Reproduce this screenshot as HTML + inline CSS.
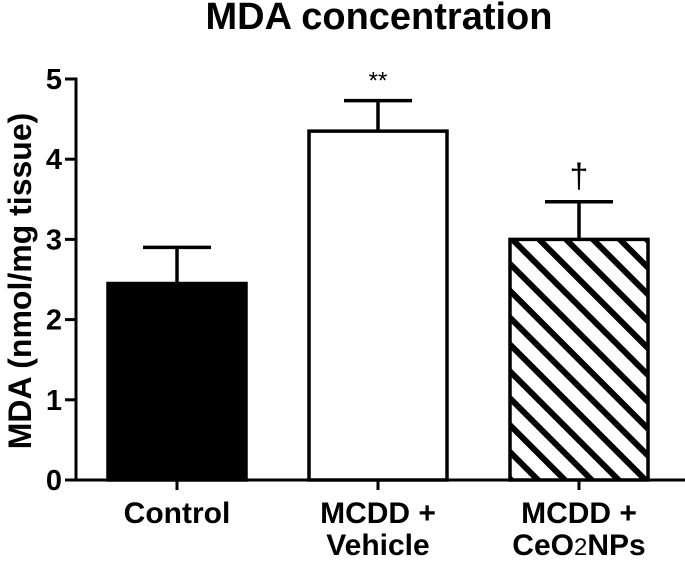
<!DOCTYPE html>
<html><head><meta charset="utf-8"><style>
html,body{margin:0;padding:0;background:#fff;}
svg text{font-family:"Liberation Sans",Arial,sans-serif;font-weight:bold;fill:#000;}
</style></head><body>
<svg id="chart" width="685" height="560" viewBox="0 0 685 560" xmlns="http://www.w3.org/2000/svg">
<defs>
<pattern id="hatch" patternUnits="userSpaceOnUse" width="19" height="19" patternTransform="rotate(-45)">
<rect width="19" height="19" fill="#fff"/><rect x="0" y="0" width="6" height="19" fill="#000"/>
</pattern>
</defs>
<text x="379" y="29" font-size="38" text-anchor="middle">MDA concentration</text>
<text transform="translate(31,281) rotate(-90)" font-size="32" text-anchor="middle">MDA (nmol/mg tissue)</text>
<g id="plot"></g>
</svg>
<script>
const categories = ["Control", "MCDD + Vehicle", "MCDD + CeO2NPs"];
const values = [2.45, 4.35, 3.0];
const errors = [0.45, 0.38, 0.47];
const yTicks = [0, 1, 2, 3, 4, 5];
const marks = ["", "**", "†"];

const NS = "http://www.w3.org/2000/svg";
const g = document.getElementById("plot");
const y0 = 480, yUnit = 80.2, axisX = 76;
const xc = i => 177 + i * 201;
const yS = v => y0 - v * yUnit;
function mk(tag, attrs, parent) {
  const e = document.createElementNS(NS, tag);
  for (const k in attrs) e.setAttribute(k, attrs[k]);
  (parent || g).appendChild(e);
  return e;
}
const fills = ["#000", "#fff", "url(#hatch)"];
values.forEach((v, i) => {
  const bw = 138, x = xc(i) - bw / 2;
  const eb = mk("line", {x1: xc(i), x2: xc(i), y1: yS(v), y2: yS(v + errors[i]), stroke: "#000", "stroke-width": 3.5});
  
  
  const cap = mk("line", {x1: xc(i) - 34, x2: xc(i) + 34, y1: yS(v + errors[i]), y2: yS(v + errors[i]), stroke: "#000", "stroke-width": 3.5});
  
  
  const r = mk("rect", {x: x, y: yS(v), width: bw, height: y0 - yS(v), fill: fills[i], stroke: "#000", "stroke-width": 3.5});
  
  
  if (marks[i]) {
    const t = mk("text", {x: xc(i), y: yS(v + errors[i]) - (i === 2 ? 14 : 12), "font-size": i === 2 ? 34 : 24, "text-anchor": "middle", style: "font-weight:normal"});
    t.textContent = marks[i];
    
    
  }
  const tk = mk("line", {x1: xc(i), x2: xc(i), y1: y0, y2: y0 + 10, stroke: "#000", "stroke-width": 3});
  
  
  const lines = categories[i] === "Control" ? ["Control"] : ["MCDD +", categories[i].split("+ ")[1]];
  lines.forEach((ln, j) => {
    const t = mk("text", {x: xc(i), y: 523 + j * 32, "font-size": 30, "text-anchor": "middle"});
    if (ln === "CeO2NPs") {
      t.textContent = "CeO";
      const s = mk("tspan", {"font-size": 24, style: "font-weight:normal"}, t); s.textContent = "2";
      const s2 = mk("tspan", {}, t); s2.textContent = "NPs";
    } else t.textContent = ln;
    
    
  });
});
const ya = mk("line", {x1: axisX, x2: axisX, y1: yS(5) - 1.5, y2: y0 + 1.5, stroke: "#000", "stroke-width": 3});


const xa = mk("line", {x1: 65, x2: 685, y1: y0, y2: y0, stroke: "#000", "stroke-width": 3});


yTicks.forEach(v => {
  const tk = mk("line", {x1: 65, x2: axisX, y1: yS(v), y2: yS(v), stroke: "#000", "stroke-width": 3});
  
  
  const t = mk("text", {x: 62, y: yS(v) + 10, "font-size": 29, "text-anchor": "end"});
  t.textContent = v;
  
  
});
</script>
</body></html>
